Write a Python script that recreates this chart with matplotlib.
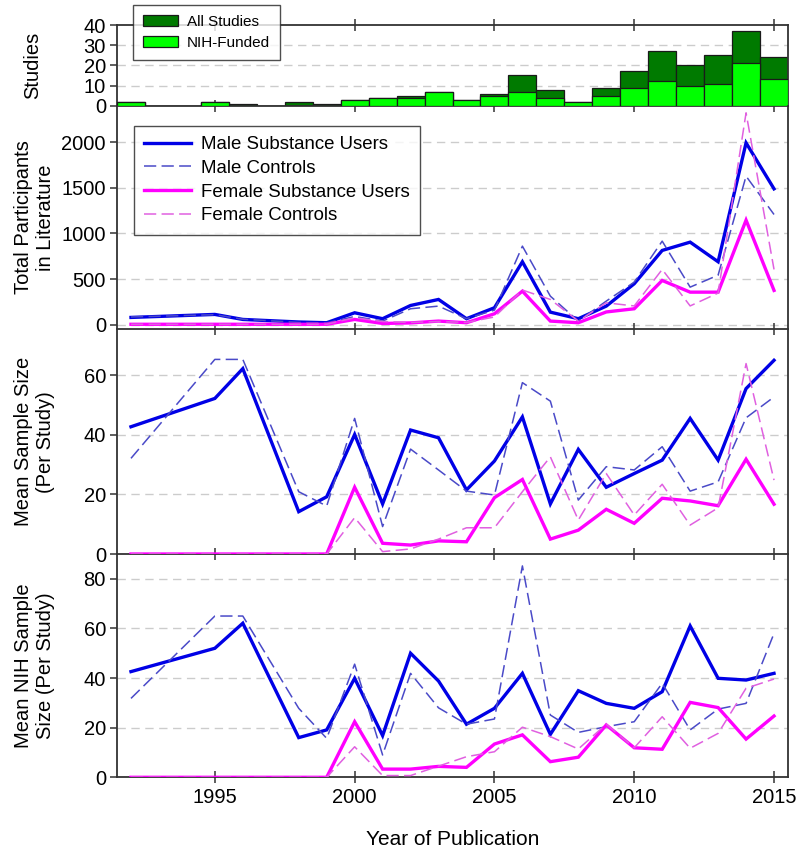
import numpy as np
import matplotlib
matplotlib.use("Agg")
import matplotlib.pyplot as plt

plt.rcParams['font.family'] = ['Liberation Sans', 'DejaVu Sans']

# studies per year (histogram)
bar_years = list(range(1992, 2016))
all_studies = [2, 0, 0, 2, 1, 0, 2, 1, 3, 4, 5, 7, 3, 6, 15, 8, 2, 9, 17, 27, 20, 25, 37, 24]
nih_studies = [2, 0, 0, 2, 0, 0, 0, 0, 3, 4, 4, 7, 3, 5, 7, 4, 2, 5, 9, 12, 10, 11, 21, 13]

# years that have participant data
years = [1992, 1995, 1996, 1998, 1999, 2000, 2001, 2002, 2003, 2004, 2005, 2006,
         2007, 2008, 2009, 2010, 2011, 2012, 2013, 2014, 2015]

# total participants in literature
tot_male_users = [80, 113, 58, 30, 22, 131, 66, 211, 277, 66, 186, 690,
                  138, 66, 204, 449, 814, 905, 690, 1993, 1489]
tot_male_ctrl = [85, 110, 60, 25, 20, 90, 40, 175, 204, 66, 160, 861,
                 313, 40, 259, 467, 916, 412, 543, 1628, 1208]
tot_fem_users = [5, 5, 5, 5, 5, 58, 14, 20, 40, 22, 120, 368,
                 40, 22, 140, 175, 485, 357, 357, 1146, 376]
tot_fem_ctrl = [5, 5, 5, 5, 5, 77, 35, 25, 35, 25, 85, 380,
                277, 40, 240, 206, 606, 206, 347, 2322, 606]

# mean sample size per study
mean_male_users = [42.7, 52.2, 62.2, 14.2, 19.2, 40.1, 16.8, 41.6, 39.0, 21.5, 31.2, 46.0,
                   16.8, 35.1, 22.4, 27.0, 31.5, 45.5, 31.5, 55.5, 65.0]
mean_male_ctrl = [32.1, 65.3, 65.3, 20.9, 16.1, 45.5, 9.2, 35.2, 28.2, 21.1, 19.8, 57.5,
                  51.3, 18.1, 29.3, 28.2, 36.0, 21.1, 24.2, 45.7, 52.7]
mean_fem_users = [0, 0, 0, 0, 0, 22.4, 3.6, 3.0, 4.4, 4.1, 18.9, 25.0,
                  5.0, 8.0, 15.0, 10.3, 18.7, 17.8, 16.2, 31.8, 16.7]
mean_fem_ctrl = [0, 0, 0, 0, 0, 12.2, 0.8, 1.7, 5.0, 8.8, 8.8, 20.9,
                 32.6, 11.4, 27.0, 13.1, 23.4, 9.7, 15.5, 63.9, 24.8]

# mean NIH sample size per study
nih_male_users = [42.6, 52.0, 62.1, 16.0, 19.1, 39.9, 16.8, 50.0, 38.8, 21.4, 27.8, 41.9,
                  17.3, 34.9, 29.8, 27.8, 34.5, 61.0, 39.9, 39.2, 41.9]
nih_male_ctrl = [31.8, 65.0, 65.0, 27.8, 15.7, 45.6, 9.0, 41.9, 28.0, 21.4, 23.5, 85.2,
                 25.1, 18.1, 20.4, 22.4, 37.9, 19.1, 27.5, 29.8, 58.0]
nih_fem_users = [0, 0, 0, 0, 0, 22.4, 3.3, 3.3, 4.4, 4.0, 13.4, 17.1,
                 6.3, 8.1, 21.1, 11.9, 11.3, 30.2, 28.1, 15.4, 24.7]
nih_fem_ctrl = [0, 0, 0, 0, 0, 12.3, 0.7, 0.7, 4.5, 8.3, 10.3, 20.2,
                16.4, 11.4, 21.4, 11.9, 24.4, 11.7, 17.7, 35.9, 39.6]

series_labels = ['Male Substance Users', 'Male Controls',
                 'Female Substance Users', 'Female Controls']
styles = [dict(color='#0000e6', lw=2.4, ls='-'),
          dict(color='#4a4ac8', lw=1.1, ls=(0, (8, 3.5))),
          dict(color='#ff00ff', lw=2.4, ls='-'),
          dict(color='#e060e0', lw=1.1, ls=(0, (8, 3.5)))]

fig = plt.figure(figsize=(8, 8.56), dpi=100)
L, W = 0.14625, 0.83875
ax1 = fig.add_axes([L, 0.87652, W, 0.09427])
ax2 = fig.add_axes([L, 0.61531, W, 0.26121])
ax3 = fig.add_axes([L, 0.35280, W, 0.26250])
ax4 = fig.add_axes([L, 0.09194, W, 0.26086])
axes = [ax1, ax2, ax3, ax4]

grid_kw = dict(color='#cccccc', lw=1.0, ls=(0, (6, 4)))
tick_fs = 14.5

# histogram
ax1.bar(bar_years, all_studies, width=1.0, color='#007a00', edgecolor='#1a1a1a',
        lw=0.9, label='All Studies', zorder=2)
ax1.bar(bar_years, nih_studies, width=1.0, color='#00ff00', edgecolor='#1a1a1a',
        lw=0.9, label='NIH-Funded', zorder=3)
ax1.set_ylim(0, 40)
ax1.set_yticks([0, 10, 20, 30, 40])
for v in [10, 20, 30]:
    ax1.axhline(v, zorder=1, **grid_kw)
leg1 = ax1.legend(loc='upper left', bbox_to_anchor=(0.16625, 0.9942),
                  bbox_transform=fig.transFigure, borderaxespad=0,
                  fontsize=11, frameon=True, fancybox=False, edgecolor='#222222',
                  handlelength=2.3, handleheight=0.75, borderpad=0.65,
                  labelspacing=0.45, handletextpad=0.6)
leg1.get_frame().set_linewidth(1.0)
leg1.set_zorder(5)
ax1.set_ylabel('Studies', fontsize=tick_fs)
ax1.yaxis.set_label_coords(-0.112, 0.5)

panels = [
    (ax2, [tot_male_users, tot_male_ctrl, tot_fem_users, tot_fem_ctrl],
     (-50, 2400), [0, 500, 1000, 1500, 2000], 'Total Participants\nin Literature'),
    (ax3, [mean_male_users, mean_male_ctrl, mean_fem_users, mean_fem_ctrl],
     (0, 75.4), [0, 20, 40, 60], 'Mean Sample Size\n(Per Study)'),
    (ax4, [nih_male_users, nih_male_ctrl, nih_fem_users, nih_fem_ctrl],
     (0, 90), [0, 20, 40, 60, 80], 'Mean NIH Sample\nSize (Per Study)'),
]

for ax, data, ylim, yt, lab in panels:
    for vals, st, name in zip(data, styles, series_labels):
        ax.plot(years, vals, label=name, zorder=3, solid_joinstyle='miter', **st)
    ax.set_ylim(*ylim)
    ax.set_yticks(yt)
    for v in yt:
        if v != ylim[0]:
            ax.axhline(v, zorder=1, **grid_kw)
    ax.set_ylabel(lab, fontsize=tick_fs, linespacing=1.15)
    ax.yaxis.set_label_coords(-0.093, 0.5)

leg2 = ax2.legend(loc='upper left', bbox_to_anchor=(0.1675, 0.8528),
                  bbox_transform=fig.transFigure, borderaxespad=0,
                  fontsize=13.4, frameon=True, fancybox=False, edgecolor='#222222',
                  handlelength=2.5, borderpad=0.55, labelspacing=0.36,
                  handletextpad=0.55)
leg2.get_frame().set_linewidth(1.0)

for ax in axes:
    ax.set_xlim(1991.5, 2015.5)
    ax.set_xticks([1995, 2000, 2005, 2010, 2015])
    ax.patch.set_alpha(0)
    for s in ['left', 'right', 'bottom', 'top']:
        ax.spines[s].set_color('#333333')
        ax.spines[s].set_linewidth(1.3)
    ax.tick_params(axis='x', direction='inout', length=9, width=1.1,
                   color='#333333', labelsize=tick_fs)
    ax.tick_params(axis='y', direction='out', length=5, width=1.1,
                   color='#333333', labelsize=tick_fs, pad=3)
    if ax is not ax4:
        ax.tick_params(axis='x', labelbottom=False)

ax1.tick_params(axis='x', top=True)
for ax in [ax2, ax3, ax4]:
    ax.spines['top'].set_visible(False)

ax4.set_xlabel('Year of Publication', fontsize=15, labelpad=16)

fig.savefig('out.png', dpi=100)
